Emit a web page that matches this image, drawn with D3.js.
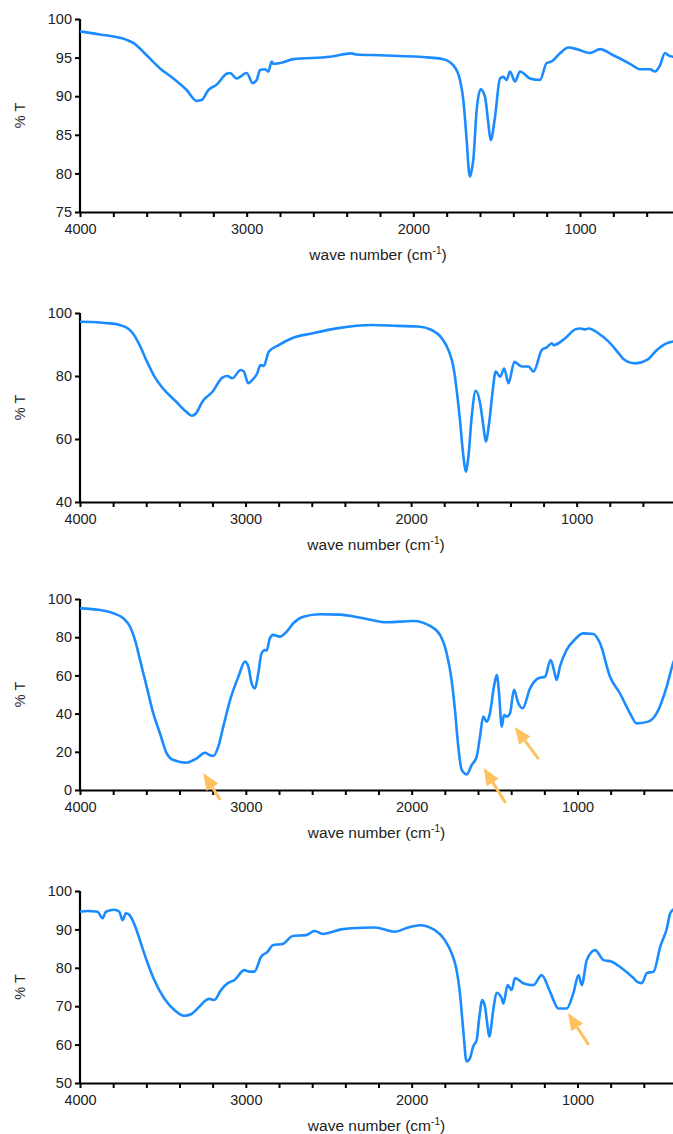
<!DOCTYPE html>
<html>
<head>
<meta charset="utf-8">
<script src="https://cdn.jsdelivr.net/npm/d3@7"></script>
<style>
  body { margin: 0; background: #fff; }
  svg { display: block; font-family: "Liberation Sans", Arial, sans-serif; }
</style>
</head>
<body>
<div id="chart"></div>
<script>
// [wave number, %T]
const spectrum1 = [[4000,98.4],[3880,98.0],[3720,97.3],[3680,96.9],[3600,95.3],[3520,93.6],[3440,92.3],[3360,90.8],[3300,89.4],[3270,89.5],[3230,90.8],[3180,91.5],[3120,92.9],[3100,93.0],[3060,92.3],[3000,93.0],[2964,91.7],[2940,92.1],[2920,93.4],[2890,93.5],[2870,93.2],[2850,94.5],[2840,94.2],[2780,94.4],[2720,94.8],[2500,95.1],[2370,95.55],[2340,95.4],[2200,95.3],[1900,95.0],[1820,94.8],[1760,94.0],[1720,92.1],[1700,89.5],[1680,84.3],[1666,80.2],[1660,79.6],[1652,80.2],[1640,81.8],[1620,88.2],[1596,90.9],[1570,89.9],[1550,86.5],[1536,84.3],[1510,87.3],[1480,92.3],[1460,92.5],[1440,92.1],[1420,93.2],[1390,91.9],[1360,93.2],[1300,92.3],[1240,92.1],[1200,94.3],[1170,94.5],[1120,95.55],[1070,96.3],[1020,96.1],[940,95.6],[880,96.1],[800,95.3],[700,94.2],[640,93.5],[580,93.5],[550,93.2],[520,94.0],[490,95.6],[470,95.3],[440,95.1],[400,95.0]];

const spectrum2 = [[4000,97.2],[3880,97.0],[3820,96.7],[3760,96.2],[3710,95.1],[3680,93.5],[3640,89.8],[3600,85.1],[3550,79.8],[3500,76.1],[3420,71.9],[3360,68.7],[3324,67.4],[3300,68.1],[3260,71.9],[3200,75.0],[3140,79.5],[3110,80.0],[3080,79.3],[3030,81.9],[3010,81.4],[2984,77.7],[2960,78.7],[2930,80.8],[2910,83.5],[2890,83.2],[2860,87.7],[2800,89.8],[2720,92.0],[2600,93.5],[2440,95.2],[2239,96.2],[2078,95.9],[1957,95.7],[1876,94.6],[1815,92.0],[1775,88.3],[1745,83.0],[1725,75.6],[1705,66.0],[1684,54.4],[1670,49.6],[1654,54.4],[1634,67.1],[1610,75.3],[1583,71.3],[1563,63.9],[1549,59.2],[1529,65.0],[1509,74.5],[1489,81.4],[1462,79.8],[1438,82.4],[1412,77.7],[1376,84.5],[1331,83.0],[1291,83.0],[1261,81.4],[1210,88.3],[1180,89.1],[1150,90.4],[1140,89.8],[1069,92.0],[1009,94.8],[978,95.1],[948,94.8],[928,95.1],[867,93.5],[807,90.9],[746,87.2],[716,85.3],[646,84.0],[575,85.1],[514,88.3],[464,90.2],[424,90.9],[400,91.0]];

const spectrum3 = [[4000,95.1],[3879,94.2],[3799,92.5],[3739,89.9],[3698,85.5],[3668,78.5],[3638,68.1],[3598,54.1],[3558,40.1],[3518,29.7],[3477,19.2],[3437,15.7],[3357,14.3],[3296,16.6],[3246,19.5],[3220,18.3],[3196,17.8],[3166,22.7],[3136,33.2],[3095,47.1],[3045,59.3],[3005,67.2],[2985,64.6],[2965,55.8],[2945,53.2],[2925,61.1],[2905,71.6],[2885,73.3],[2875,73.0],[2855,79.4],[2835,81.2],[2795,80.3],[2754,82.9],[2714,87.3],[2654,90.7],[2553,92.0],[2433,91.8],[2291,89.9],[2151,87.8],[1990,88.5],[1889,85.9],[1829,81.2],[1789,71.6],[1759,57.6],[1739,41.9],[1719,22.7],[1698,10.5],[1668,8.2],[1638,13.1],[1608,17.5],[1588,27.9],[1568,38.4],[1548,35.8],[1528,40.1],[1504,54.1],[1487,60.2],[1473,50.6],[1457,33.2],[1443,39.3],[1427,38.4],[1407,40.1],[1383,52.4],[1357,45.4],[1331,42.8],[1286,53.2],[1236,58.5],[1196,59.3],[1162,68.1],[1142,62.8],[1126,57.6],[1106,64.6],[1066,73.3],[1015,78.9],[965,82.0],[905,81.7],[864,76.8],[804,59.3],[744,50.6],[683,40.1],[643,34.9],[573,35.8],[523,40.1],[462,54.1],[424,66.3],[400,72.0]];

const spectrum4 = [[4000,94.6],[3954,94.8],[3894,94.6],[3864,92.9],[3844,94.6],[3793,95.1],[3763,94.6],[3743,92.4],[3723,94.2],[3703,93.8],[3683,92.4],[3663,90.3],[3633,86.4],[3592,81.2],[3552,76.8],[3492,72.0],[3431,69.0],[3371,67.5],[3331,67.9],[3280,69.9],[3240,71.6],[3220,71.9],[3190,71.6],[3150,74.2],[3109,76.0],[3069,76.8],[3009,79.4],[2978,79.0],[2948,79.0],[2908,82.9],[2868,84.2],[2838,85.9],[2777,86.2],[2717,88.3],[2636,88.5],[2586,89.6],[2536,88.8],[2425,90.0],[2363,90.3],[2222,90.5],[2102,89.4],[2021,90.5],[1951,91.1],[1860,89.8],[1800,87.2],[1759,83.8],[1729,79.4],[1709,73.4],[1689,63.8],[1669,55.6],[1649,56.4],[1629,59.5],[1608,61.2],[1594,66.4],[1574,71.6],[1558,69.9],[1542,64.7],[1532,62.1],[1508,69.0],[1488,73.5],[1457,72.0],[1447,70.7],[1421,75.5],[1397,74.2],[1377,77.3],[1327,76.0],[1266,75.5],[1216,78.1],[1166,73.8],[1115,69.4],[1065,69.4],[1025,73.4],[994,78.1],[974,75.5],[944,82.0],[894,84.6],[843,82.0],[793,81.6],[733,79.9],[662,77.3],[642,76.4],[612,76.0],[582,78.6],[541,79.0],[501,85.5],[461,90.3],[441,94.2],[413,95.5],[400,96.0]];

const yDomains = [[75, 100], [40, 100], [0, 100], [50, 100]];
const yTicks = [[75, 80, 85, 90, 95, 100], [40, 60, 80, 100], [0, 20, 40, 60, 80, 100], [50, 60, 70, 80, 90, 100]];
const xTicks = d3.range(4000, 399, -200);
const xLabels = [4000, 3000, 2000, 1000];

// orange arrows: panel, tip [wn, %T], tail [wn, %T]
const arrows = [
  { panel: 2, tip: [3257, 8.9], tail: [3154, -5.2] },
  { panel: 2, tip: [1566, 11.5], tail: [1433, -6.8] },
  { panel: 2, tip: [1379, 33.0], tail: [1234, 16.2] },
  { panel: 3, tip: [1058, 68.2], tail: [932, 59.9] }
];

const spectra = [spectrum1, spectrum2, spectrum3, spectrum4];
const frames = [
  { top: 19, bottom: 212, right: 680 },
  { top: 313, bottom: 502, right: 676 },
  { top: 599, bottom: 790, right: 677 },
  { top: 891, bottom: 1083, right: 677 }
];
const left = 80;

const svg = d3.select("#chart")
  .append("svg")
    .attr("width", 673)
    .attr("height", 1134);

spectra.forEach((data, i) => {
  const f = frames[i];
  const x = d3.scaleLinear().domain([4000, 400]).range([left, f.right]);
  const y = d3.scaleLinear().domain(yDomains[i]).range([f.bottom, f.top]);
  const g = svg.append("g");

  const xAxis = g.append("g")
    .attr("transform", `translate(0,${f.bottom})`)
    .call(d3.axisBottom(x)
      .tickValues(xTicks)
      .tickSize(5)
      .tickPadding(7)
      .tickSizeOuter(0)
      .tickFormat(d => xLabels.includes(d) ? d : ""));

  const yAxis = g.append("g")
    .attr("transform", `translate(${left},0)`)
    .call(d3.axisLeft(y)
      .tickValues(yTicks[i])
      .tickSize(5)
      .tickPadding(3)
      .tickSizeOuter(0));

  [xAxis, yAxis].forEach(a => {
    a.select(".domain").attr("stroke", "#000").attr("stroke-width", 2.2);
    a.selectAll(".tick line").attr("stroke", "#000").attr("stroke-width", 2);
    a.selectAll(".tick text")
      .attr("fill", "#222")
      .attr("font-size", "14.5px")
      .attr("font-family", "Liberation Sans, Arial, sans-serif");
  });
  // y axis starts at the x axis line
  yAxis.select(".domain").attr("d", `M0,${f.bottom + 1}V${f.top}`);

  g.append("path")
    .datum(data)
    .attr("fill", "none")
    .attr("stroke", "#1a8cff")
    .attr("stroke-width", 2.6)
    .attr("stroke-linejoin", "round")
    .attr("d", d3.line()
      .x(d => x(d[0]))
      .y(d => y(d[1]))
      .curve(d3.curveMonotoneX));

  g.append("text")
    .attr("transform", `translate(25,${(f.top + f.bottom) / 2}) rotate(-90)`)
    .attr("text-anchor", "middle")
    .attr("font-size", "14.5px")
    .attr("fill", "#222")
    .text("% T");

  const title = g.append("text")
    .attr("x", (left + f.right) / 2 - 2)
    .attr("y", f.bottom + 48)
    .attr("text-anchor", "middle")
    .attr("font-size", "15.5px")
    .attr("fill", "#222");
  title.append("tspan").text("wave number (cm");
  title.append("tspan").attr("font-size", "10px").attr("dy", -6).text("-1");
  title.append("tspan").attr("dy", 6).text(")");

  arrows.filter(a => a.panel === i).forEach(a => {
    const tx = x(a.tip[0]), ty = y(a.tip[1]);
    const sx = x(a.tail[0]), sy = y(a.tail[1]);
    const ang = Math.atan2(ty - sy, tx - sx);
    const headLen = 17, headW = 7;
    const bx = tx - headLen * Math.cos(ang), by = ty - headLen * Math.sin(ang);
    const nx = -Math.sin(ang), ny = Math.cos(ang);
    g.append("line")
      .attr("x1", sx).attr("y1", sy)
      .attr("x2", bx).attr("y2", by)
      .attr("stroke", "#fdc160")
      .attr("stroke-width", 3);
    g.append("path")
      .attr("d", `M${tx},${ty}L${bx + nx * headW},${by + ny * headW}L${bx - nx * headW},${by - ny * headW}Z`)
      .attr("fill", "#fdc160");
  });
});
</script>
</body>
</html>
